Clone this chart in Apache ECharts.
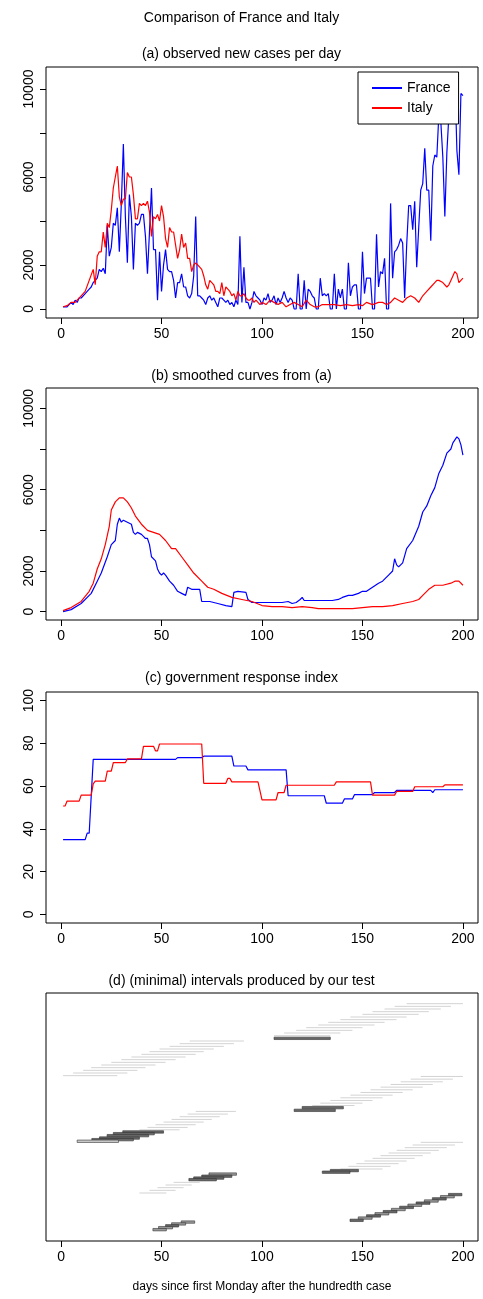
<!DOCTYPE html>
<html>
<head>
<meta charset="utf-8">
<script src="https://cdn.jsdelivr.net/npm/echarts@6/dist/echarts.min.js"></script>
<style>html,body{margin:0;padding:0;background:#fff}#c{width:483px;height:1299px}</style>
</head>
<body>
<div id="c"></div>
<script>
// (a) observed new cases per day, [day, cases]
var franceObserved = [[1,100],[3,100],[5,300],[6,200],[7,400],[8,300],[9,500],[10,500],[12,700],[14,900],[15,1000],[16,1200],[17,1300],[18,1400],[19,1800],[20,1700],[21,1850],[22,1600],[23,3800],[24,2400],[25,2800],[26,3900],[27,3800],[28,4600],[29,2600],[30,4800],[31,7500],[32,4200],[33,2100],[34,5200],[35,4200],[36,1800],[37,3900],[38,3800],[39,3900],[40,4300],[41,4300],[42,3300],[43,1600],[44,3500],[45,5500],[46,2700],[47,2700],[48,400],[49,2600],[50,800],[51,2000],[52,2700],[53,1800],[54,1700],[55,1700],[56,1300],[57,500],[58,1200],[59,1200],[60,1600],[61,1000],[62,1000],[63,600],[64,500],[65,700],[66,1500],[67,4200],[68,600],[69,600],[70,500],[71,400],[72,200],[73,500],[74,600],[75,400],[76,500],[77,300],[78,100],[79,500],[80,500],[81,400],[82,300],[83,400],[84,200],[85,300],[86,100],[87,400],[88,200],[89,3300],[90,300],[91,1900],[92,300],[93,300],[94,0],[95,300],[96,800],[97,600],[98,500],[99,400],[100,200],[101,500],[102,400],[103,700],[104,300],[105,400],[106,600],[107,200],[108,500],[109,300],[110,500],[111,800],[112,500],[113,300],[114,500],[115,400],[116,0],[117,0],[118,1600],[119,0],[120,0],[121,1300],[122,0],[123,900],[124,800],[125,600],[126,500],[127,0],[128,0],[129,1400],[130,600],[131,700],[132,600],[133,700],[134,0],[135,0],[136,1600],[137,0],[138,900],[139,500],[140,900],[141,0],[142,0],[143,2100],[144,600],[145,1000],[146,1100],[147,1100],[148,0],[149,0],[150,2600],[151,700],[152,1400],[153,1400],[154,1400],[155,0],[156,0],[157,3400],[158,1000],[159,1700],[160,1600],[161,2300],[162,0],[163,0],[164,4800],[165,1400],[166,2600],[167,2700],[168,2900],[169,3200],[170,3000],[171,500],[172,2900],[173,4700],[174,4700],[175,3600],[176,4900],[177,1900],[178,3700],[179,5400],[180,5700],[181,7300],[182,5400],[183,5400],[184,3100],[185,6500],[186,7000],[187,6900],[188,8800],[189,8500],[190,6900],[191,4200],[192,7100],[193,8800],[194,9900],[195,9400],[196,10500],[197,7200],[198,6100],[199,9800],[200,9700]];
var italyObserved = [[1,100],[3,150],[5,300],[7,300],[8,400],[10,600],[12,800],[14,1300],[16,1800],[17,1100],[18,2400],[19,2600],[20,2600],[21,3500],[22,2800],[23,3900],[24,3700],[25,4500],[26,5500],[27,6000],[28,6500],[29,5100],[30,4700],[31,5000],[32,5000],[33,6200],[34,6000],[35,6000],[36,5200],[37,4100],[38,4100],[39,4800],[40,4700],[41,4800],[42,4700],[43,4900],[44,4400],[45,3300],[46,4200],[47,4100],[48,4300],[49,4000],[50,4700],[51,4200],[52,3200],[53,2800],[54,3700],[55,3500],[56,3500],[57,2900],[58,2300],[59,2700],[60,3400],[61,2800],[62,3000],[63,2300],[64,2300],[65,1700],[66,2000],[67,2100],[68,2000],[69,1900],[70,1800],[71,1500],[72,1100],[73,900],[74,1300],[75,1200],[76,1100],[77,800],[78,800],[79,700],[80,1200],[81,600],[82,1000],[83,900],[84,800],[85,600],[86,700],[87,400],[88,800],[89,600],[90,600],[91,700],[92,500],[93,400],[94,400],[95,500],[96,300],[97,400],[98,300],[99,200],[100,300],[102,200],[104,400],[106,300],[108,200],[110,300],[112,100],[114,200],[116,300],[118,200],[120,100],[122,400],[124,200],[126,100],[128,100],[130,200],[133,200],[136,200],[139,150],[142,200],[145,150],[148,200],[150,150],[152,300],[155,200],[158,300],[160,300],[162,200],[164,300],[166,500],[168,400],[170,300],[172,500],[174,600],[176,500],[178,300],[180,600],[182,800],[184,1000],[186,1200],[187,1300],[188,1300],[190,1200],[192,1000],[193,1100],[194,1300],[195,1500],[196,1700],[197,1600],[198,1200],[199,1300],[200,1400]];

// (b) smoothed curves
var franceSmooth = [[1,0],[5,100],[10,400],[15,900],[18,1500],[20,1900],[23,2700],[25,3300],[27,3500],[28,4300],[29,4600],[30,4400],[31,4500],[33,4400],[35,4300],[36,3900],[37,3800],[38,3900],[40,3800],[41,3700],[42,3600],[43,3600],[44,3300],[45,2700],[47,2500],[48,2100],[49,1900],[50,1800],[51,1900],[52,1800],[54,1500],[56,1300],[58,1000],[60,900],[62,800],[63,1200],[65,1100],[67,1100],[69,1100],[70,500],[74,500],[78,400],[82,300],[85,250],[86,950],[88,1000],[92,950],[93,600],[95,450],[100,450],[105,450],[110,450],[113,500],[115,400],[117,450],[119,600],[120,700],[121,550],[125,550],[130,550],[135,550],[138,600],[140,700],[143,800],[145,800],[148,900],[150,1000],[152,1000],[155,1200],[158,1400],[160,1500],[163,1800],[165,2000],[166,2600],[167,2300],[168,2200],[170,2400],[172,3100],[175,3500],[178,4200],[180,4900],[182,5200],[184,5700],[186,6100],[188,6800],[190,7200],[192,7800],[194,8000],[195,8300],[197,8600],[198,8500],[199,8200],[200,7700]];
var italySmooth = [[1,50],[5,200],[10,500],[14,1000],[16,1400],[18,2100],[20,2600],[22,3300],[24,4200],[25,5000],[27,5400],[29,5600],[31,5600],[33,5400],[35,5100],[37,4700],[40,4300],[43,4000],[46,3900],[49,3800],[52,3500],[55,3100],[57,3100],[60,2700],[63,2300],[66,1900],[70,1500],[73,1200],[76,1100],[80,900],[85,700],[90,600],[95,500],[100,300],[105,250],[110,250],[115,200],[120,250],[125,200],[128,150],[135,150],[140,150],[145,150],[150,200],[155,250],[160,250],[165,300],[170,400],[175,500],[178,600],[180,800],[183,1100],[186,1300],[190,1300],[194,1400],[196,1500],[198,1500],[200,1300]];

// (c) government response index
var franceIndex = [[1,35],[12,35],[13,38],[14,38],[16,72.5],[57,72.5],[58,73.3],[70,73.3],[71,74],[85,74],[86,69.4],[92,69.4],[93,67.6],[112,67.6],[113,55.5],[131,55.5],[132,52],[140,52],[141,54],[145,54],[146,56],[155,56],[156,57],[166,57],[167,58],[184,58],[185,57],[186,58.3],[200,58.3]];
var italyIndex = [[1,50.7],[2,50.7],[3,53],[9,53],[10,55.8],[15,55.8],[16,61],[17,62.3],[22,62.3],[23,67],[25,67],[26,71],[32,71],[33,72.7],[40,72.7],[41,78.6],[46,78.6],[47,76.5],[48,76.5],[49,79.7],[70,79.7],[71,61.3],[82,61.3],[83,63.6],[84,63.6],[85,62],[98,62],[100,53.6],[107,53.6],[108,57],[111,57],[112,60.4],[136,60.4],[137,62],[154,62],[155,55.8],[166,55.8],[167,57.5],[175,57.5],[176,59.7],[190,59.7],[191,60.6],[200,60.6]];

// (d) intervals: [start, end, row, kind] kind 0 = not rejected (light), 1 = dark, 2 = medium, 3 = outlined light
var intervals = [
  [172,200,4,0],[166,194,5,0],[161,189,6,0],[155,183,7,0],[150,178,8,0],[144,172,9,0],[139,167,10,0],[133,161,11,0],[128,156,12,0],[122,150,13,0],[117,145,14,0],[111,139,15,0],[106,134,16,0],[106,134,17,1],
  [64,91,18,0],[59,86,19,0],[54,81,20,0],[49,76,21,0],[44,71,22,0],[40,67,23,0],[35,62,24,0],[30,57,25,0],[25,52,26,0],[20,47,27,0],[15,42,28,0],[11,38,29,0],[6,33,30,0],[1,28,31,0],
  [179,200,31.3,0],[174,195,32.3,0],[169,190,33.3,0],[164,185,34.3,0],[159,180,35.3,0],[154,175,36.3,0],[149,170,37.3,0],[144,165,38.3,0],[139,160,39.3,0],[134,155,40.3,0],[129,150,41.3,0],[125,146,42.2,0],[120,140.5,43,1],[116,136.5,44,1],
  [67,87,44.4,0],[63,83,45.4,0],[59,79,46.4,0],[55,75,47.4,0],[51,71,48.4,0],[47,67,49.4,0],[43,63,50.4,0],[39,59,51.3,0],[30.7,51,52.1,1],[26,46.4,52.75,1],[22.9,43.6,53.5,1],[19.1,39,54.4,1],[15.3,36,55,1],[8,28.6,55.6,3],
  [179,200,56,0],[175,196,57,0],[171,192,58,0],[167,188,59,0],[163,184,60,0],[159,180,61,0],[155,176,62,0],[151,172,63,0],[147,168,64,0],[143,164,65,0],[139,160,66,0],[134,148,66.6,1],[130,143.8,67.2,1],
  [73.6,87.3,67.9,2],[70,85,68.7,1],[66,81,69.4,1],[63.6,77.3,70,1],[56,69,71,0],[52,65,72,0],[48,61,73,0],[44,57,74,0],[39,52.4,75,0],
  [192.8,199.5,75.6,1],[188.8,195.7,76.4,2],[184.8,191.7,77.2,1],[180.8,187.7,78,2],[176.7,183.6,78.8,1],[172.6,179.5,79.6,2],[168.5,175.4,80.4,1],[164.4,171.3,81.2,2],[160.3,167.2,82,1],[156.2,163.1,82.8,2],[152,159,83.6,1],[147.9,154.8,84.4,2],[143.8,150.4,85.25,1],
  [59.8,66.5,85.9,2],[55,62,86.6,2],[52,58.5,87.3,1],[48.5,55.5,88,2],[45.7,52.4,88.75,2]
];

var xTicks = [0, 50, 100, 150, 200];
var caseTicks = [0, 2000, 4000, 6000, 8000, 10000];
var caseLabels = [0, 2000, 6000, 10000];
var indexTicks = [0, 20, 40, 60, 80, 100];

var FONT = 'Liberation Sans';
var grids = [
  {left: 46, right: 5, top: 67, height: 251},
  {left: 46, right: 5, top: 388, height: 232},
  {left: 46, right: 5, top: 692, height: 231},
  {left: 46, right: 5, top: 993, height: 248}
];
grids.forEach(function (g) { g.show = true; g.borderColor = '#000'; g.borderWidth = 1; g.backgroundColor = 'transparent'; });

function xAxis(i) {
  return {
    type: 'value', gridIndex: i, min: -7.5, max: 207.5, position: 'bottom',
    axisLine: {show: false, onZero: false}, splitLine: {show: false},
    axisTick: {customValues: xTicks, length: 6, inside: false, lineStyle: {color: '#000'}},
    axisLabel: {customValues: xTicks, color: '#000', fontSize: 14, fontFamily: FONT, margin: 9, formatter: function (v) { return String(v); }},
    name: i === 3 ? 'days since first Monday after the hundredth case' : '',
    nameLocation: 'middle', nameGap: 40, nameTextStyle: {color: '#000', fontSize: 12, fontFamily: FONT}
  };
}
function yAxis(i, min, max, ticks, labels) {
  return {
    type: 'value', gridIndex: i, min: min, max: max, position: 'left',
    axisLine: {show: false, onZero: false}, splitLine: {show: false},
    axisTick: {customValues: ticks, length: 6, inside: false, lineStyle: {color: '#000'}},
    axisLabel: {customValues: labels, color: '#000', fontSize: 14, fontFamily: FONT, rotate: 90, margin: 10, verticalAlign: 'bottom', align: 'center', formatter: function (v) { return String(v); }}
  };
}

function line(name, data, i, color) {
  return {
    type: 'line', name: name, data: data, xAxisIndex: i, yAxisIndex: i,
    showSymbol: false, symbol: 'none', animation: false,
    lineStyle: {color: color, width: 1.2}, itemStyle: {color: color}
  };
}

var titleStyle = {color: '#000', fontSize: 14, fontWeight: 'normal', fontFamily: FONT};
var option = {
  animation: false,
  title: [
    {text: 'Comparison of France and Italy', left: 'center', top: 6, textStyle: titleStyle},
    {text: '(a) observed new cases per day', left: 'center', top: 42, textStyle: titleStyle},
    {text: '(b) smoothed curves from (a)', left: 'center', top: 364, textStyle: titleStyle},
    {text: '(c) government response index', left: 'center', top: 666, textStyle: titleStyle},
    {text: '(d) (minimal) intervals produced by our test', left: 'center', top: 969, textStyle: titleStyle}
  ],
  legend: {
    data: ['France', 'Italy'], orient: 'vertical', left: 358, top: 72,
    width: 112, borderColor: '#000', borderWidth: 1, borderRadius: 0,
    padding: [9, 8, 9, 14], itemGap: 6, itemWidth: 30, itemHeight: 2, icon: 'rect',
    textStyle: {color: '#000', fontSize: 14, fontFamily: FONT}, backgroundColor: '#fff'
  },
  grid: grids,
  xAxis: [xAxis(0), xAxis(1), xAxis(2), xAxis(3)],
  yAxis: [
    yAxis(0, -410, 11000, caseTicks, caseLabels),
    yAxis(1, -410, 11000, caseTicks, caseLabels),
    yAxis(2, -4, 104, indexTicks, indexTicks),
    {type: 'value', gridIndex: 3, min: 0, max: 93, inverse: true, show: false}
  ],
  series: [
    line('France', franceObserved, 0, '#0000ff'),
    line('Italy', italyObserved, 0, '#ff0000'),
    line('France', franceSmooth, 1, '#0000ff'),
    line('Italy', italySmooth, 1, '#ff0000'),
    line('France', franceIndex, 2, '#0000ff'),
    line('Italy', italyIndex, 2, '#ff0000'),
    {
      type: 'custom', xAxisIndex: 3, yAxisIndex: 3, data: intervals,
      renderItem: function (params, api) {
        var a = api.coord([api.value(0), api.value(2)]);
        var b = api.coord([api.value(1), api.value(2)]);
        var kind = api.value(3);
        if (kind === 0) {
          return {type: 'line', shape: {x1: a[0], y1: a[1], x2: b[0], y2: b[1]}, style: {stroke: '#d3d3d3', lineWidth: 1}};
        }
        var fill = kind === 1 ? '#666' : (kind === 2 ? '#999' : '#ccc');
        return {type: 'rect', shape: {x: a[0], y: a[1] - 1.2, width: b[0] - a[0], height: 2.4}, style: {fill: fill, stroke: '#333', lineWidth: 0.6}};
      }
    }
  ]
};
echarts.init(document.getElementById('c')).setOption(option);
</script>
</body>
</html>
